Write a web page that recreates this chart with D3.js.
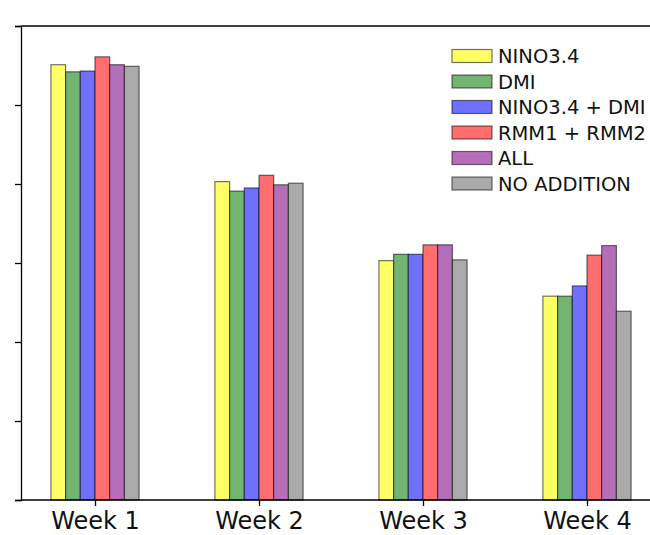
<!DOCTYPE html>
<html>
<head>
<meta charset="utf-8">
<script src="https://cdn.jsdelivr.net/npm/d3@7"></script>
<style>
  body { margin: 0; background: #fff; }
  svg { font-family: "DejaVu Sans", sans-serif; }
</style>
</head>
<body>
<div id="chart"></div>
<script>
const weeks = ["Week 1", "Week 2", "Week 3", "Week 4"]
const seriesNames = ["NINO3.4", "DMI", "NINO3.4 + DMI", "RMM1 + RMM2", "ALL", "NO ADDITION"]
const seriesColors = ["#ffff66", "#72b472", "#7070ff", "#ff6e6e", "#b56fb8", "#aaaaaa"]

// one array per series, one value per week
const nino = [5.51, 4.03, 3.03, 2.58]
const dmi = [5.42, 3.91, 3.11, 2.58]
const ninoDmi = [5.43, 3.95, 3.11, 2.71]
const rmm = [5.61, 4.11, 3.23, 3.10]
const all = [5.51, 3.99, 3.23, 3.22]
const noAddition = [5.49, 4.01, 3.04, 2.39]
const seriesValues = [nino, dmi, ninoDmi, rmm, all, noAddition]

const yTicks = [0, 1, 2, 3, 4, 5, 6]

const width = 650
const height = 535
const marginLeft = 21
const marginTop = 26
const plotBottom = 500

const svg = d3.select("#chart")
  .append("svg")
  .attr("width", width)
  .attr("height", height)

const xScale = d3.scalePoint()
  .domain(weeks)
  .range([95, 587])

const barW = 14.7
const offset = d3.scaleLinear()
  .domain([0, seriesNames.length])
  .range([-barW * 3, barW * 3])

const yScale = d3.scaleLinear()
  .domain([0, 6])
  .range([plotBottom, marginTop])

// bars
seriesValues.forEach((vals, i) => {
  svg.append("g")
    .selectAll("rect")
    .data(vals)
    .join("rect")
    .attr("x", (d, j) => xScale(weeks[j]) + offset(i))
    .attr("y", d => yScale(d))
    .attr("width", barW)
    .attr("height", d => plotBottom - yScale(d))
    .attr("fill", seriesColors[i])
    .attr("stroke", "rgba(0,0,0,0.55)")
    .attr("stroke-width", 1.2)
})

// axes
const yAxis = d3.axisLeft(yScale).tickValues(yTicks).tickFormat("").tickSizeOuter(0).tickSize(6)
svg.append("g")
  .attr("transform", `translate(${marginLeft},0)`)
  .call(yAxis)
  .call(g => g.selectAll("line, path").attr("stroke", "#000").attr("stroke-width", 1.3))

const xAxis = d3.axisBottom(xScale).tickSizeOuter(0).tickSize(6)
svg.append("g")
  .attr("transform", `translate(0,${plotBottom})`)
  .call(xAxis)
  .call(g => g.select(".domain").attr("d", `M${marginLeft},0H${width + 10}`))
  .call(g => g.selectAll("line, path").attr("stroke", "#000").attr("stroke-width", 1.3))
  .call(g => g.selectAll("text")
    .attr("font-family", "DejaVu Sans")
    .attr("font-size", "24px")
    .attr("fill", "#111")
    .attr("y", 0)
    .attr("dy", 0)
    .attr("transform", "translate(0,29)"))

// top spine
svg.append("line")
  .attr("x1", marginLeft).attr("x2", width + 10)
  .attr("y1", marginTop).attr("y2", marginTop)
  .attr("stroke", "#000").attr("stroke-width", 1.3)

// legend
const legend = svg.append("g")
  .attr("transform", "translate(452,56)")

const rows = legend.selectAll("g")
  .data(seriesNames)
  .join("g")
  .attr("transform", (d, i) => `translate(0,${i * 25.5})`)

rows.append("rect")
  .attr("x", 0)
  .attr("y", -6.5)
  .attr("width", 40)
  .attr("height", 13)
  .attr("fill", (d, i) => seriesColors[i])
  .attr("stroke", "rgba(0,0,0,0.55)")
  .attr("stroke-width", 1.2)

rows.append("text")
  .attr("x", 46)
  .attr("y", 7)
  .attr("font-size", "19.5px")
  .attr("fill", "#111")
  .text(d => d)
</script>
</body>
</html>
